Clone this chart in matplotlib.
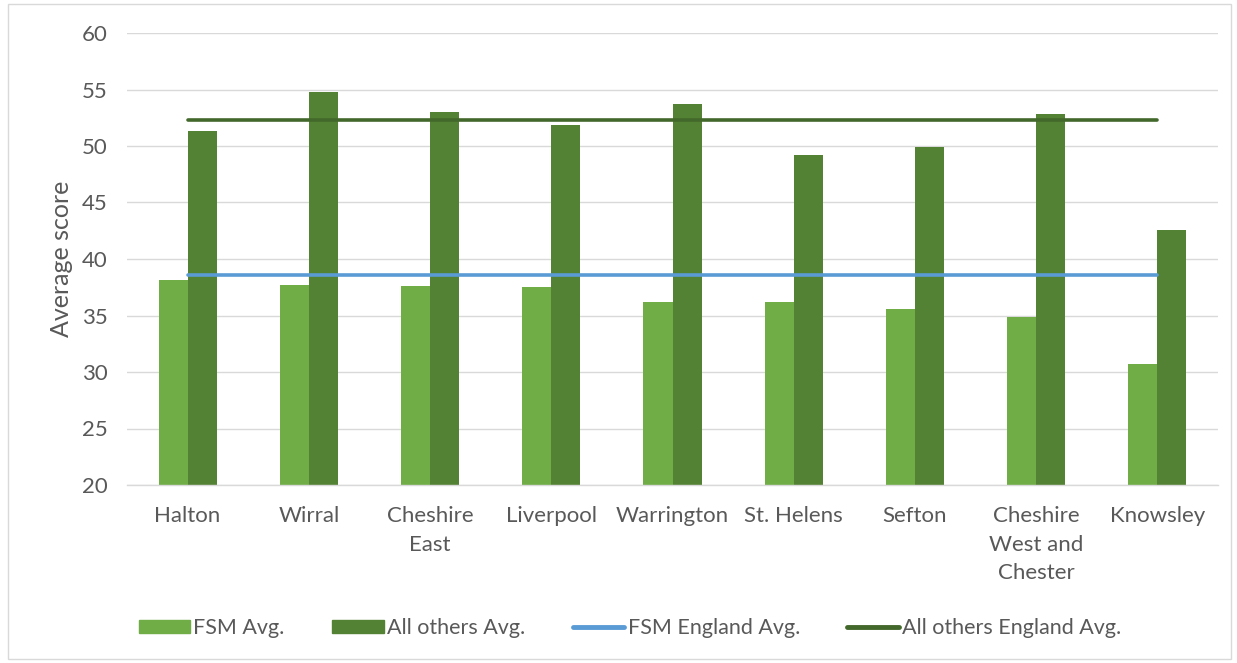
import matplotlib
matplotlib.use("Agg")
import matplotlib.pyplot as plt
import numpy as np
from matplotlib.patches import Rectangle
from matplotlib.lines import Line2D

categories = ["Halton", "Wirral", "Cheshire\nEast", "Liverpool", "Warrington",
              "St. Helens", "Sefton", "Cheshire\nWest and\nChester", "Knowsley"]
fsm_avg = [38.1, 37.7, 37.6, 37.5, 36.2, 36.2, 35.6, 34.9, 30.7]
others_avg = [51.3, 54.8, 53.0, 51.9, 53.7, 49.2, 49.9, 52.8, 42.6]
fsm_england = 38.6
others_england = 52.3
yticks = [20, 25, 30, 35, 40, 45, 50, 55, 60]

plt.rcParams['font.family'] = ['Lato', 'DejaVu Sans']
W, H = 1237, 663
fig = plt.figure(figsize=(W/100, H/100), dpi=100)
ax = fig.add_axes([127/W, 1-485/H, (1218-127)/W, (485-33)/H])

x = np.arange(len(categories))
bw = 0.24
ax.bar(x - bw/2, [v - 20 for v in fsm_avg], bw, bottom=20, color="#70AD47", label="FSM Avg.", zorder=2)
ax.bar(x + bw/2, [v - 20 for v in others_avg], bw, bottom=20, color="#548235", label="All others Avg.", zorder=2)
ax.plot([x[0], x[-1]], [fsm_england]*2, color="#5B9BD5", lw=2.6, solid_capstyle="round", label="FSM England Avg.", zorder=3)
ax.plot([x[0], x[-1]], [others_england]*2, color="#43682B", lw=2.6, solid_capstyle="round", label="All others England Avg.", zorder=3)

ax.set_xlim(-0.5, len(categories) - 0.5)
ax.set_ylim(20, 60)
ax.set_yticks(yticks)
ax.yaxis.grid(True, color="#D9D9D9", lw=1.0, zorder=0)
ax.set_axisbelow(True)
for s in ["top", "right", "left"]:
    ax.spines[s].set_visible(False)
ax.spines["bottom"].set_color("#D9D9D9")
ax.spines["bottom"].set_linewidth(1.0)
ax.tick_params(axis="both", length=0, labelsize=16, colors="#595959")
ax.tick_params(axis="y", pad=14)
ax.tick_params(axis="x", pad=15)
ax.set_xticks(x)
ax.set_xticklabels(categories, linespacing=1.55)
ax.set_ylabel("Average score", fontsize=18, color="#595959", labelpad=6)

handles = [Rectangle((0, 0), 1, 1, color="#70AD47"),
           Rectangle((0, 0), 1, 1, color="#548235"),
           Line2D([], [], color="#5B9BD5", lw=3.5, solid_capstyle="round"),
           Line2D([], [], color="#43682B", lw=3.5, solid_capstyle="round")]
labels = ["FSM Avg.", "All others Avg.", "FSM England Avg.", "All others England Avg."]
leg = fig.legend(handles, labels, ncol=4, loc="center", bbox_to_anchor=(630/W, 1-628/H),
                 frameon=False, fontsize=15.5, handlelength=2.4, handleheight=0.6,
                 handletextpad=0.15, columnspacing=2.2)
for t in leg.get_texts():
    t.set_color("#595959")

fig.patches.append(Rectangle((8/W, 4/H), (1231-8)/W, (659-4)/H, transform=fig.transFigure,
                             fill=False, edgecolor="#D9D9D9", lw=1.0))
fig.savefig("out.png", dpi=100)
